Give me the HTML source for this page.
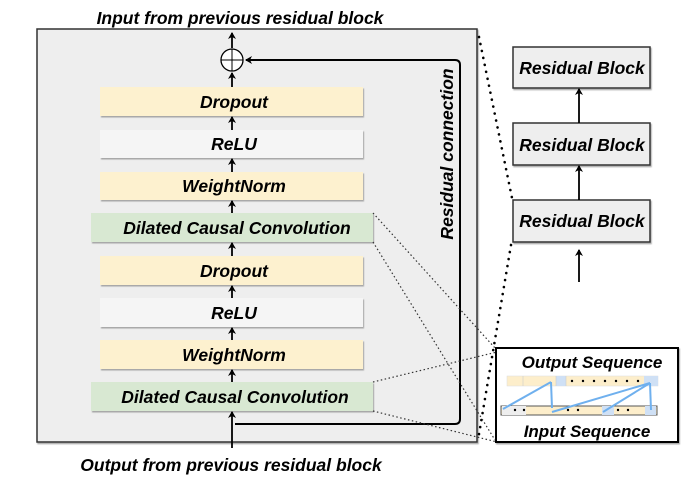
<!DOCTYPE html>
<html><head><meta charset="utf-8"><style>
body{margin:0;background:#fff;}
svg text{font-family:"Liberation Sans",sans-serif;font-weight:bold;font-style:italic;}
</style></head><body>
<svg width="689" height="489" viewBox="0 0 689 489" xmlns="http://www.w3.org/2000/svg">
<defs>
<marker id="ah" markerWidth="8" markerHeight="8" refX="6" refY="4" orient="auto" markerUnits="userSpaceOnUse">
<path d="M0,0 L7,4 L0,8 L2,4 Z" fill="#000"/></marker>
<filter id="sh" x="-5%" y="-20%" width="110%" height="150%"><feDropShadow dx="1" dy="1.5" stdDeviation="0.6" flood-color="#888" flood-opacity="0.7"/></filter>
</defs>
<rect x="37" y="29" width="440" height="413" fill="#eeeeee" stroke="#333" stroke-width="1.5" filter="url(#sh)"/>
<text x="240" y="24" font-size="17.5" text-anchor="middle">Input from previous residual block</text>
<text x="231" y="471" font-size="17.5" text-anchor="middle">Output from previous residual block</text>
<g filter="url(#sh)">
<rect x="100" y="87" width="263" height="29" fill="#fdf1cf"/>
<rect x="100" y="130" width="263" height="28" fill="#f5f5f5"/>
<rect x="100" y="172" width="263" height="28" fill="#fdf1cf"/>
<rect x="91" y="213" width="282" height="29" fill="#d8e8d2"/>
<rect x="100" y="256" width="263" height="29" fill="#fdf1cf"/>
<rect x="100" y="298" width="263" height="29" fill="#f5f5f5"/>
<rect x="100" y="340" width="263" height="29" fill="#fdf1cf"/>
<rect x="91" y="382" width="282" height="29" fill="#d8e8d2"/>
</g>
<g font-size="17.5" text-anchor="middle">
<text x="234" y="108">Dropout</text>
<text x="234" y="150">ReLU</text>
<text x="234" y="192">WeightNorm</text>
<text x="237" y="234">Dilated Causal Convolution</text>
<text x="234" y="277">Dropout</text>
<text x="234" y="319">ReLU</text>
<text x="234" y="361">WeightNorm</text>
<text x="235" y="403">Dilated Causal Convolution</text>
</g>
<g stroke="#000" stroke-width="1.8" marker-end="url(#ah)">
<line x1="232" y1="48" x2="232" y2="33"/>
<line x1="232" y1="87" x2="232" y2="73"/>
<line x1="232" y1="130" x2="232" y2="117"/>
<line x1="232" y1="172" x2="232" y2="159"/>
<line x1="232" y1="213" x2="232" y2="201"/>
<line x1="232" y1="256" x2="232" y2="243"/>
<line x1="232" y1="298" x2="232" y2="286"/>
<line x1="232" y1="340" x2="232" y2="328"/>
<line x1="232" y1="382" x2="232" y2="370"/>
<line x1="232" y1="448" x2="232" y2="412"/>
</g>
<circle cx="232" cy="60" r="11" fill="#fff" stroke="#000" stroke-width="1.3"/>
<line x1="221" y1="60" x2="243" y2="60" stroke="#000" stroke-width="1"/>
<line x1="232" y1="49" x2="232" y2="71" stroke="#000" stroke-width="1"/>
<path d="M235,424 L455,424 Q460,424 460,419 L460,65 Q460,60 455,60 L246,60" fill="none" stroke="#000" stroke-width="2" marker-end="url(#ah)"/>
<text transform="translate(453,154) rotate(-90)" font-size="17.5" text-anchor="middle">Residual connection</text>
<g filter="url(#sh)" fill="#eeeeee" stroke="#333" stroke-width="1.5">
<rect x="513" y="47" width="137" height="41"/>
<rect x="513" y="123" width="137" height="42"/>
<rect x="513" y="200" width="137" height="42"/>
</g>
<g font-size="17.5" text-anchor="middle">
<text x="582" y="74">Residual Block</text>
<text x="582" y="151">Residual Block</text>
<text x="582" y="227">Residual Block</text>
</g>
<g stroke="#000" stroke-width="1.8" marker-end="url(#ah)">
<line x1="579" y1="123" x2="579" y2="89"/>
<line x1="579" y1="200" x2="579" y2="166"/>
<line x1="579" y1="282" x2="579" y2="250"/>
</g>
<g stroke="#000" stroke-width="2.6" stroke-dasharray="0.1 7" stroke-linecap="round" fill="none">
<line x1="479" y1="37" x2="512" y2="198"/>
<line x1="511" y1="245" x2="478" y2="440"/>
</g>
<g stroke="#333" stroke-width="1.2" stroke-dasharray="1.5 2.5" fill="none">
<line x1="373" y1="213" x2="495" y2="348"/>
<line x1="373" y1="242" x2="495" y2="440"/>
<line x1="373" y1="382" x2="497" y2="352"/>
<line x1="373" y1="411" x2="497" y2="442"/>
</g>
<rect x="496" y="348" width="182" height="94" fill="#fff" stroke="#000" stroke-width="2" filter="url(#sh)"/>
<text x="592" y="368" font-size="17" text-anchor="middle">Output Sequence</text>
<text x="587" y="437" font-size="17" text-anchor="middle">Input Sequence</text>
<rect x="507" y="376" width="151" height="10" fill="#fdeecb" stroke="#ddd" stroke-width="0.5"/>
<rect x="556" y="376" width="10" height="10" fill="#cfe0f5"/>
<rect x="644" y="376" width="14" height="10" fill="#cfe0f5"/>
<g stroke="#ccc" stroke-width="0.6"><line x1="523" y1="376" x2="523" y2="386"/><line x1="556" y1="376" x2="556" y2="386"/><line x1="566" y1="376" x2="566" y2="386"/></g>
<rect x="501" y="406" width="156" height="9" fill="#fdeecb" stroke="#555" stroke-width="1"/>
<rect x="502" y="406" width="24" height="9" fill="#eee"/>
<rect x="602" y="406" width="12" height="9" fill="#cfe0f5"/>
<rect x="645" y="406" width="11" height="9" fill="#cfe0f5"/>
<g fill="#000">
<circle cx="572" cy="381" r="1.2"/><circle cx="583" cy="381" r="1.2"/><circle cx="594" cy="381" r="1.2"/><circle cx="605" cy="381" r="1.2"/><circle cx="616" cy="381" r="1.2"/><circle cx="627" cy="381" r="1.2"/><circle cx="638" cy="381" r="1.2"/>
<circle cx="515" cy="410" r="1.2"/><circle cx="524" cy="410" r="1.2"/><circle cx="568" cy="410" r="1.2"/><circle cx="578" cy="410" r="1.2"/><circle cx="618" cy="410" r="1.2"/><circle cx="628" cy="410" r="1.2"/>
</g>
<g stroke="#6fb0ee" stroke-width="2" fill="none">
<line x1="551" y1="382" x2="503" y2="409"/>
<line x1="551" y1="382" x2="552" y2="408"/>
<line x1="650" y1="383" x2="552" y2="412"/>
<line x1="650" y1="383" x2="603" y2="412"/>
<line x1="650" y1="383" x2="651" y2="410"/>
</g>
</svg>
</body></html>
